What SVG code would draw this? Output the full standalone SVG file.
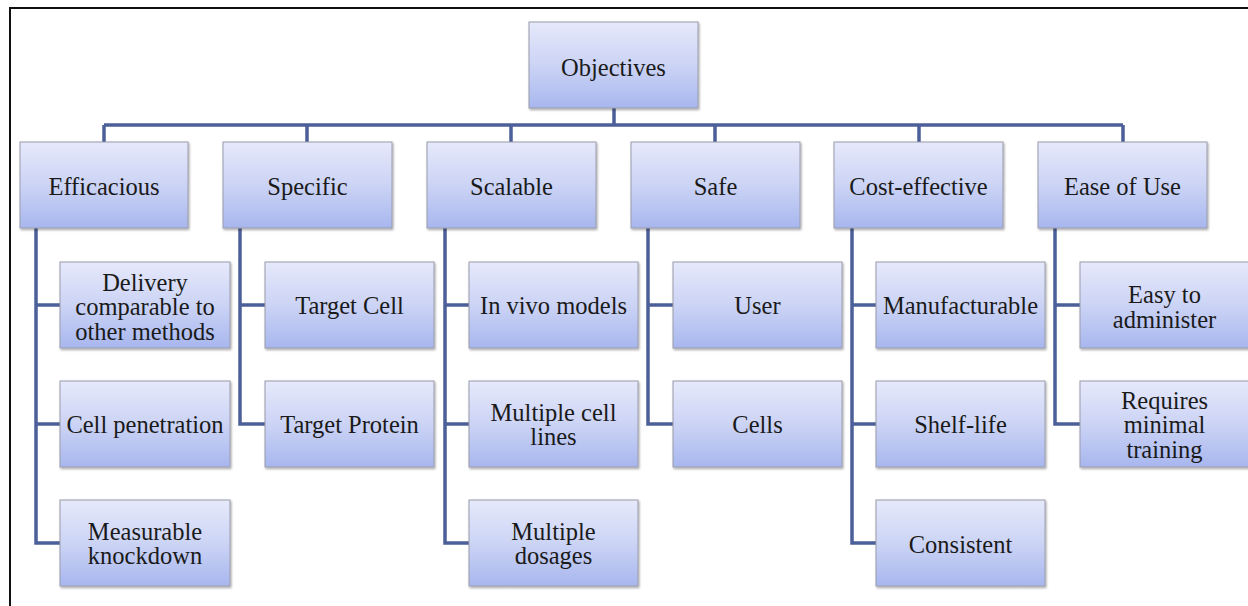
<svg xmlns="http://www.w3.org/2000/svg" width="1248" height="606" viewBox="0 0 1248 606">
<defs>
<linearGradient id="g" x1="0" y1="0" x2="0" y2="1">
<stop offset="0" stop-color="#e6e9fb"/>
<stop offset="0.5" stop-color="#ccd4f5"/>
<stop offset="1" stop-color="#a7b6ee"/>
</linearGradient>
<filter id="sh" x="-5%" y="-5%" width="115%" height="120%">
<feDropShadow dx="1" dy="1.5" stdDeviation="1.2" flood-color="#000" flood-opacity="0.35"/>
</filter>
<style>
.b{fill:url(#g);stroke:#9a9cac;stroke-width:1;filter:url(#sh)}
.t{font-family:"Liberation Serif","Times New Roman",serif;font-size:24.5px;fill:#1a1a1a;text-anchor:middle}
.c{fill:none;stroke:#4c5f99;stroke-width:3.5}
</style>
</defs>
<rect width="1248" height="606" fill="#fff"/>
<path d="M10,620 V8 H1260" fill="none" stroke="#111" stroke-width="2"/>
<g id="connectors" class="c">
<path d="M614,108 V125 M104,125 H1123 M104,125 V142 M307,125 V142 M511,125 V142 M715,125 V142 M919,125 V142 M1123,125 V142"/>
<path d="M36,228 V543 H60 M36,305 H60 M36,424 H60"/>
<path d="M240,228 V424 H265 M240,305 H265"/>
<path d="M445,228 V543 H469 M445,305 H469 M445,424 H469"/>
<path d="M648,228 V424 H673 M648,305 H673"/>
<path d="M852,228 V543 H876 M852,305 H876 M852,424 H876"/>
<path d="M1055,228 V424 H1080 M1055,305 H1080"/>
</g>
<g id="objectives"><rect class="b" x="529" y="22" width="169" height="86"/><text class="t" x="613.5" y="75.5">Objectives</text></g>
<g id="efficacious"><rect class="b" x="20" y="142" width="168" height="86"/><text class="t" x="104" y="194.5">Efficacious</text></g>
<g id="specific"><rect class="b" x="223" y="142" width="169" height="86"/><text class="t" x="307.5" y="194.5">Specific</text></g>
<g id="scalable"><rect class="b" x="427" y="142" width="169" height="86"/><text class="t" x="511.5" y="194.5">Scalable</text></g>
<g id="safe"><rect class="b" x="631" y="142" width="169" height="86"/><text class="t" x="715.5" y="194.5">Safe</text></g>
<g id="cost"><rect class="b" x="834" y="142" width="169" height="86"/><text class="t" x="918.5" y="194.5">Cost-effective</text></g>
<g id="ease"><rect class="b" x="1038" y="142" width="169" height="86"/><text class="t" x="1122.5" y="194.5">Ease of Use</text></g>

<g id="delivery"><rect class="b" x="60" y="262" width="170" height="86"/><text class="t" x="145" y="290.5">Delivery</text><text class="t" x="145" y="315">comparable to</text><text class="t" x="145" y="339.5">other methods</text></g>
<g id="cellpen"><rect class="b" x="60" y="381" width="170" height="86"/><text class="t" x="145" y="432.5">Cell penetration</text></g>
<g id="measurable"><rect class="b" x="60" y="500" width="170" height="86"/><text class="t" x="145" y="539.5">Measurable</text><text class="t" x="145" y="564">knockdown</text></g>

<g id="targetcell"><rect class="b" x="265" y="262" width="169" height="86"/><text class="t" x="349.5" y="313.5">Target Cell</text></g>
<g id="targetprotein"><rect class="b" x="265" y="381" width="169" height="86"/><text class="t" x="349.5" y="432.5">Target Protein</text></g>

<g id="invivo"><rect class="b" x="469" y="262" width="169" height="86"/><text class="t" x="553.5" y="313.5">In vivo models</text></g>
<g id="multicell"><rect class="b" x="469" y="381" width="169" height="86"/><text class="t" x="553.5" y="420.5">Multiple cell</text><text class="t" x="553.5" y="445">lines</text></g>
<g id="multidose"><rect class="b" x="469" y="500" width="169" height="86"/><text class="t" x="553.5" y="539.5">Multiple</text><text class="t" x="553.5" y="564">dosages</text></g>

<g id="user"><rect class="b" x="673" y="262" width="169" height="86"/><text class="t" x="757.5" y="313.5">User</text></g>
<g id="cells"><rect class="b" x="673" y="381" width="169" height="86"/><text class="t" x="757.5" y="432.5">Cells</text></g>

<g id="manuf"><rect class="b" x="876" y="262" width="169" height="86"/><text class="t" x="960.5" y="313.5">Manufacturable</text></g>
<g id="shelf"><rect class="b" x="876" y="381" width="169" height="86"/><text class="t" x="960.5" y="432.5">Shelf-life</text></g>
<g id="consistent"><rect class="b" x="876" y="500" width="169" height="86"/><text class="t" x="960.5" y="552.5">Consistent</text></g>

<g id="easyadmin"><rect class="b" x="1080" y="262" width="175" height="86"/><text class="t" x="1164.5" y="302.5">Easy to</text><text class="t" x="1164.5" y="327.5">administer</text></g>
<g id="training"><rect class="b" x="1080" y="381" width="175" height="86"/><text class="t" x="1164.5" y="408.5">Requires</text><text class="t" x="1164.5" y="433">minimal</text><text class="t" x="1164.5" y="457.5">training</text></g>
</svg>
